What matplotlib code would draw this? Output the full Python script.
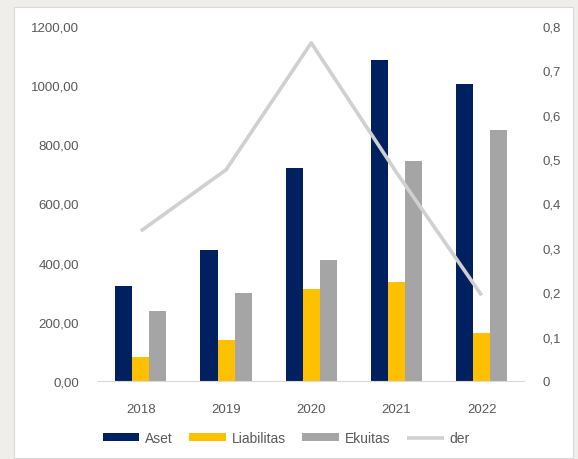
import matplotlib
matplotlib.use('Agg')
import matplotlib.pyplot as plt
from matplotlib.patches import Rectangle
import numpy as np

years = ['2018', '2019', '2020', '2021', '2022']
aset = [320, 442, 721, 1085, 1003]
liabilitas = [82, 139, 310, 333, 163]
ekuitas = [238, 296, 408, 745, 847]
der = [0.338, 0.476, 0.762, 0.47, 0.193]

left_ticks = [0, 200, 400, 600, 800, 1000, 1200]
right_ticks = [0, 0.1, 0.2, 0.3, 0.4, 0.5, 0.6, 0.7, 0.8]

plt.rcParams['font.family'] = ['Liberation Sans', 'DejaVu Sans']
txt = '#595959'

fig = plt.figure(figsize=(5.78, 4.6), dpi=100, facecolor='#efeeea')
# white chart panel behind everything
panel = Rectangle((14/578, 0.002), 559/578, 1 - 8/460 - 0.002,
                  transform=fig.transFigure, facecolor='white',
                  edgecolor='#d9d9d9', linewidth=0.8, zorder=-5)
fig.patches.append(panel)

ax1 = fig.add_axes([0.170, 0.1696, 0.737, 0.7717])
ax1.patch.set_alpha(0)
x = np.arange(len(years))
w = 0.2
ax1.bar(x - w, aset, w, color='#002060', label='Aset')
ax1.bar(x, liabilitas, w, color='#ffc000', label='Liabilitas')
ax1.bar(x + w, ekuitas, w, color='#a5a5a5', label='Ekuitas')
ax1.set_xlim(-0.5, 4.5)
ax1.set_ylim(0, 1200)
ax1.set_yticks(left_ticks)
ax1.set_yticklabels([('%.2f' % v).replace('.', ',') for v in left_ticks])
ax1.set_xticks(x)
ax1.set_xticklabels(years)

ax2 = ax1.twinx()
ax2.plot(x, der, color='#d0d0d0', linewidth=2.6, label='der', solid_capstyle='butt')
ax2.set_ylim(0, 0.8)
ax2.set_yticks(right_ticks)
ax2.set_yticklabels(['0'] + [('%.1f' % v).replace('.', ',') for v in right_ticks[1:]])

for a in (ax1, ax2):
    for s in a.spines.values():
        s.set_visible(False)
    a.tick_params(length=0, colors=txt, labelsize=9.5)
ax1.spines['bottom'].set_visible(True)
ax1.spines['bottom'].set_color('#d9d9d9')
ax1.tick_params(axis='y', pad=14)
ax1.tick_params(axis='x', pad=16)
ax2.tick_params(axis='y', pad=13)

h1, l1 = ax1.get_legend_handles_labels()
h2, l2 = ax2.get_legend_handles_labels()
leg = fig.legend(h1 + h2, l1 + l2, loc='center', bbox_to_anchor=(0.495, 0.045),
                 ncol=4, frameon=False, fontsize=10, handlelength=2.65,
                 handleheight=0.5, columnspacing=1.2, handletextpad=0.4)
for t in leg.get_texts():
    t.set_color(txt)

fig.savefig('out.png', dpi=100, facecolor=fig.get_facecolor())
